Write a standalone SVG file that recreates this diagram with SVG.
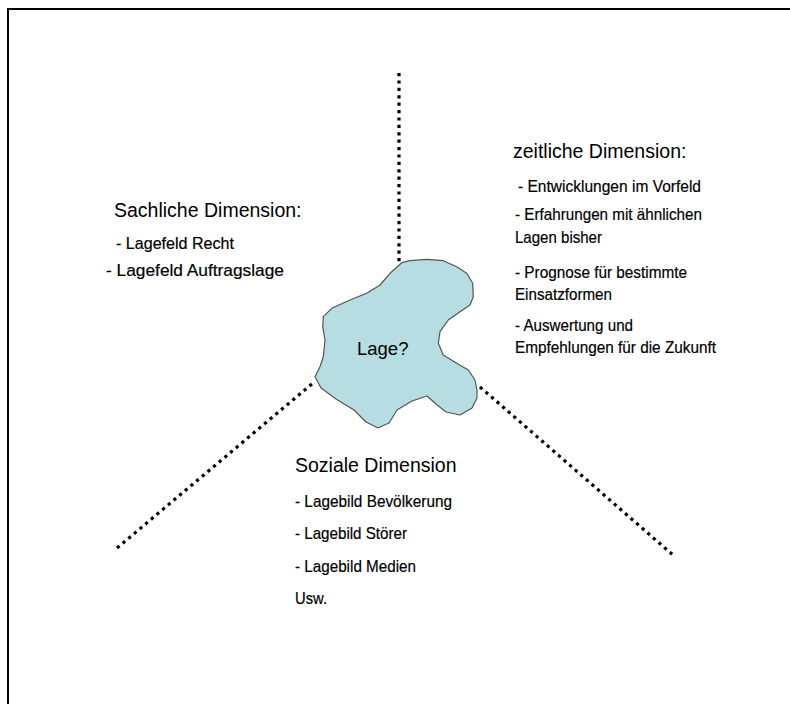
<svg xmlns="http://www.w3.org/2000/svg" width="790" height="704" viewBox="0 0 790 704">
  <style>
    .head { font-family: "Liberation Sans", Arial, sans-serif; font-size: 19.5px; fill: #000; }
    .item { font-family: "Liberation Sans", Arial, sans-serif; font-size: 17px; fill: #000; stroke: #000; stroke-width: 0.2; }
    .dots { stroke: #000; stroke-width: 3.2; stroke-dasharray: 3.2 4.2; fill: none; }
    .frame { stroke: #000; stroke-width: 2; fill: none; }
  </style>
  <rect x="0" y="0" width="790" height="704" fill="#fff"/>
  <path class="frame" d="M8,704 V9 H790"/>

  <g id="connectors">
    <line class="dots" x1="399" y1="73" x2="399" y2="262"/>
    <line class="dots" x1="117" y1="548" x2="313" y2="383"/>
    <line class="dots" x1="480" y1="387" x2="673" y2="555"/>
  </g>

  <g id="lage">
    <path d="M401.7,262.7 L410,260.7 L426.7,259.3 L443.3,260.7 L456.7,266.7 L466.7,273.3 L472.7,283.3 L473.3,296.7 L470,305 L460,311.7 L448.3,320 L440,331.7 L438.3,343.3 L443.3,355 L456.7,363.3 L468.3,370 L475,380 L477,390 L477,398 L472,408 L460,415 L446,412 L436,404 L427,396 L412,401 L397,410 L389,423 L378,428 L366,422 L354,410 L336,399 L321,388 L315,376.7 L320,366.7 L323.3,356.7 L325,340 L322.7,326.7 L323.3,316.7 L331.7,308.3 L350,300 L366.7,293.3 L380,285 L390,273.3 Z" fill="#b6dde1" stroke="#555" stroke-width="1.2" stroke-linejoin="round"/>
    <text x="357" y="355" font-family="Liberation Sans, Arial, sans-serif" font-size="18.5" fill="#000">Lage?</text>
  </g>

  <g id="sachliche">
    <text class="head" x="114" y="217">Sachliche Dimension:</text>
    <text class="item" x="116" y="249" textLength="118" lengthAdjust="spacingAndGlyphs">- Lagefeld Recht</text>
    <text class="item" x="106" y="276" textLength="178" lengthAdjust="spacingAndGlyphs">- Lagefeld Auftragslage</text>
  </g>

  <g id="zeitliche">
    <text class="head" x="513" y="158">zeitliche Dimension:</text>
    <text class="item" x="518" y="192" textLength="183" lengthAdjust="spacingAndGlyphs">- Entwicklungen im Vorfeld</text>
    <text class="item" x="515" y="220" textLength="187" lengthAdjust="spacingAndGlyphs">- Erfahrungen mit ähnlichen</text>
    <text class="item" x="515" y="243" textLength="87" lengthAdjust="spacingAndGlyphs">Lagen bisher</text>
    <text class="item" x="515" y="278" textLength="172" lengthAdjust="spacingAndGlyphs">- Prognose für bestimmte</text>
    <text class="item" x="515" y="300" textLength="97" lengthAdjust="spacingAndGlyphs">Einsatzformen</text>
    <text class="item" x="515" y="331" textLength="118" lengthAdjust="spacingAndGlyphs">- Auswertung und</text>
    <text class="item" x="515" y="353" textLength="201" lengthAdjust="spacingAndGlyphs">Empfehlungen für die Zukunft</text>
  </g>

  <g id="soziale">
    <text class="head" x="295" y="472">Soziale Dimension</text>
    <text class="item" x="295" y="507" textLength="157" lengthAdjust="spacingAndGlyphs">- Lagebild Bevölkerung</text>
    <text class="item" x="295" y="539" textLength="112" lengthAdjust="spacingAndGlyphs">- Lagebild Störer</text>
    <text class="item" x="295" y="572" textLength="121" lengthAdjust="spacingAndGlyphs">- Lagebild Medien</text>
    <text class="item" x="295" y="604" textLength="32" lengthAdjust="spacingAndGlyphs">Usw.</text>
  </g>
</svg>
